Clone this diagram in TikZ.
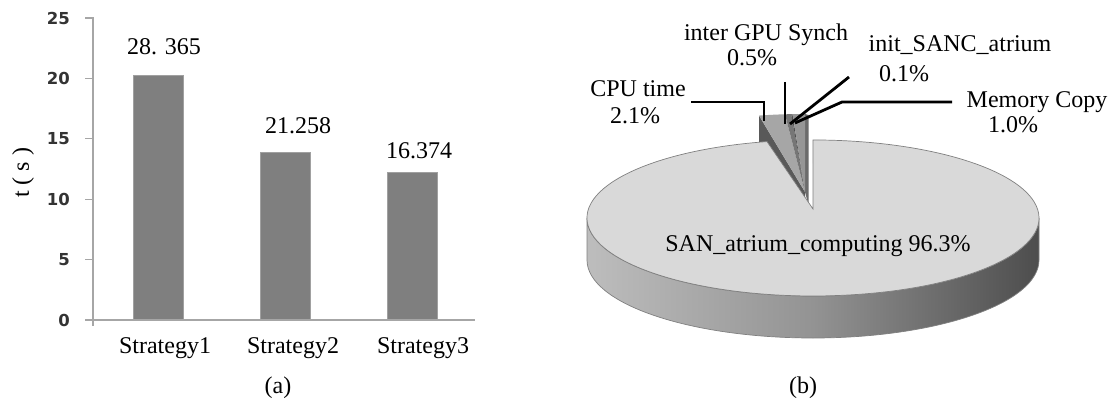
\documentclass[tikz,border=0pt]{standalone}
\usepackage{fontspec}
\setmainfont{Liberation Serif}
\newfontfamily\tickfont{DejaVu Sans}
\definecolor{axisgray}{HTML}{A6A6A6}
\definecolor{barfill}{HTML}{7F7F7F}
\definecolor{barline}{HTML}{A0A0A0}
\definecolor{tickcol}{HTML}{333333}
\definecolor{pietop}{HTML}{D9D9D9}
\definecolor{pieedge}{HTML}{808080}
\definecolor{sideleft}{HTML}{BDBDBD}
\definecolor{sidemid}{HTML}{939393}
\definecolor{sideright}{HTML}{4D4D4D}
\definecolor{cputop}{HTML}{A6A6A6}
\definecolor{cpuside}{HTML}{595959}
\definecolor{gputop}{HTML}{767676}
\definecolor{inittop}{HTML}{4D4D4D}
\definecolor{memtop}{HTML}{969696}
\definecolor{rstrip}{HTML}{6B6B6B}
\begin{document}
\begin{tikzpicture}[x=1pt,y=-1pt,
  lbl/.style={font=\fontsize{24}{26}\selectfont, inner sep=0pt, anchor=base},
  ticklbl/.style={font=\tickfont\bfseries\fontsize{16.5}{18}\selectfont, text=tickcol, anchor=east, inner sep=0pt},
  bar/.style={fill=barfill, draw=barline, line width=0.8pt},
  axisline/.style={draw=axisgray, line width=1.3pt},
  leaderline/.style={draw=black, line width=2.8pt},
  sector/.style={x radius=226, y radius=78}
]
\useasboundingbox (0,0) rectangle (1113,401);
\fill[white] (0,0) rectangle (1113,401);

% ---------------- (a) bar chart ----------------
\draw[bar] (133,320) rectangle (183,75);
\draw[bar] (260,320) rectangle (310,152);
\draw[bar] (387,320) rectangle (437,172);

\draw[axisline] (93,17.5) -- (93,326);
\draw[axisline] (85,320) -- (475,320);
\foreach \yy in {18,78.4,138.8,199.2,259.6}{
  \draw[axisline] (85,\yy) -- (93,\yy);
}
\node[ticklbl] (t25) at (70,18) {25};
\node[ticklbl] (t20) at (70,78.4) {20};
\node[ticklbl] (t15) at (70,138.8) {15};
\node[ticklbl] (t10) at (70,199.2) {10};
\node[ticklbl] (t5) at (70,259.6) {5};
\node[ticklbl] (t0) at (70,320) {0};

\node[lbl] (v1) at (164,55) {28. 365};
\node[lbl] (v2) at (298,133) {21.258};
\node[lbl] (v3) at (419,158) {16.374};

\node[lbl] (c1) at (165,353) {Strategy1};
\node[lbl] (c2) at (293,353) {Strategy2};
\node[lbl] (c3) at (423,353) {Strategy3};

\node[lbl, anchor=center, rotate=90] (ylab) at (23,173) {t ( s )};
\node[lbl] (capa) at (278,393) {(a)};

% ---------------- (b) pie chart ----------------
% exploded small slices (behind)
\fill[cpuside] (805,192) -- (759,115.6) -- (759,157.6) -- (805,234) -- cycle;
\fill[rstrip] (805,114) -- (808.5,115) -- (808.5,205) -- (805,192) -- cycle;
\fill[cputop] (805,192) -- (759,115.6) arc[sector, start angle=258.26, end angle=264.92] -- cycle;
\fill[gputop] (805,192) -- ++(264.92:226 and 78) arc[sector, start angle=264.92, end angle=266.51] -- cycle;
\fill[inittop] (805,192) -- ++(266.51:226 and 78) arc[sector, start angle=266.51, end angle=266.83] -- cycle;
\fill[memtop] (805,192) -- ++(266.83:226 and 78) arc[sector, start angle=266.83, end angle=270] -- cycle;

% main slice side
\shadedraw[left color=sideleft, right color=sideright, middle color=sidemid, draw=pieedge, line width=0.7pt]
  (587,218) arc[sector, start angle=180, end angle=0] -- (1039,260)
  arc[sector, start angle=0, end angle=180] -- cycle;
% main slice top
\filldraw[fill=pietop, draw=pieedge, line width=0.7pt]
  (813,209) -- (767,141.6) arc[sector, start angle=258.26, end angle=-90] -- cycle;

% leader lines
\coordinate (cpuA) at (691,102);
\coordinate (cpuB) at (764,102);
\coordinate (cpuC) at (764,121);
\coordinate (gpuA) at (785,82);
\coordinate (gpuB) at (785,124);
\coordinate (initA) at (849,77);
\coordinate (initB) at (790,124);
\coordinate (memA) at (952,102);
\coordinate (memB) at (842,102);
\coordinate (memC) at (795,123);
\draw[leaderline] (cpuA) -- (cpuB) -- (cpuC);
\draw[leaderline] (gpuA) -- (gpuB);
\draw[leaderline] (initA) -- (initB);
\draw[leaderline] (memA) -- (memB) -- (memC);

% labels
\node[lbl] (gpu1) at (766,41) {inter GPU Synch};
\node[lbl] (gpu2) at (752,66) {0.5\%};
\node[lbl] (init1) at (960,52) {init\_SANC\_atrium};
\node[lbl] (init2) at (904,82) {0.1\%};
\node[lbl] (cpu1) at (638,97) {CPU time};
\node[lbl] (cpu2) at (635,124) {2.1\%};
\node[lbl] (mem1) at (1037,108) {Memory Copy};
\node[lbl] (mem2) at (1013,132) {1.0\%};
\node[lbl] (san) at (818,251) {SAN\_atrium\_computing 96.3\%};
\node[lbl] (capb) at (803,393) {(b)};
\end{tikzpicture}
\end{document}
